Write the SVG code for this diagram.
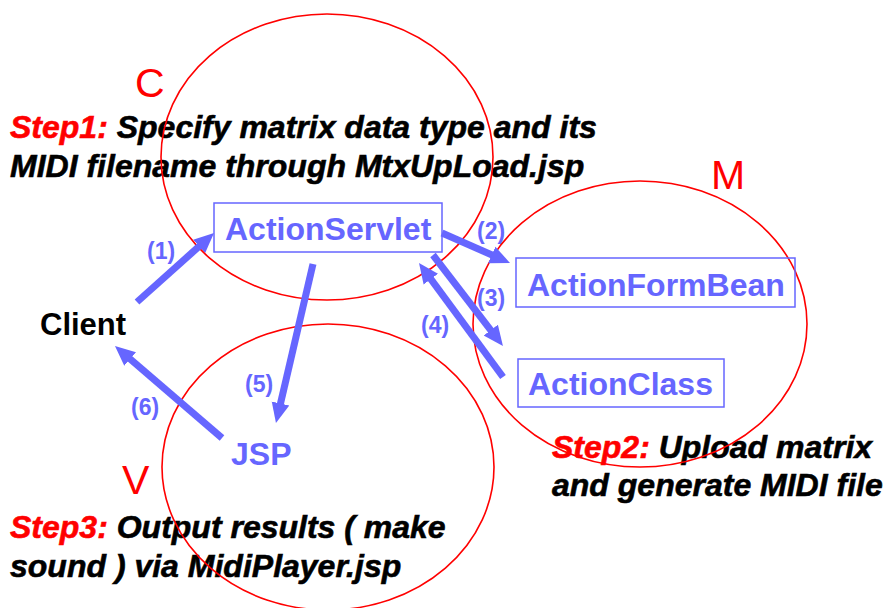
<svg xmlns="http://www.w3.org/2000/svg" width="887" height="608" viewBox="0 0 887 608">
<style>
.step{font-family:"Liberation Sans",Arial,sans-serif;font-weight:bold;font-style:italic;font-size:32px;fill:#000;stroke:#000;stroke-width:0.6}
.red{fill:#FF0000;stroke:#FF0000}
.region{fill:none;stroke:#FF0000;stroke-width:1.6}
.letter{font-family:"Liberation Sans",Arial,sans-serif;font-size:41px;fill:#FF0000}
.box{fill:none;stroke:#6666FF;stroke-width:1.5}
.node{font-family:"Liberation Sans",Arial,sans-serif;font-weight:bold;font-size:32px;fill:#6666FF}
.client{font-family:"Liberation Sans",Arial,sans-serif;font-weight:bold;font-size:31px;fill:#000}
.lbl{font-family:"Liberation Sans",Arial,sans-serif;font-weight:bold;font-size:23px;fill:#6666FF}
.arrow{stroke:#6666FF;stroke-width:7;fill:none;marker-end:url(#head)}
</style>
<defs>
<marker id="head" viewBox="0 0 20 20" markerUnits="userSpaceOnUse" markerWidth="20" markerHeight="20" refX="4" refY="10" orient="auto">
<path d="M0,1 L20,10 L0,19 z" fill="#6666FF"/>
</marker>
</defs>
<rect width="887" height="608" fill="#fff"/>
<g id="step-texts">
<text class="step" x="10" y="138"><tspan class="red">Step1:</tspan> Specify matrix data type and its</text>
<text class="step" x="10" y="177">MIDI filename through MtxUpLoad.jsp</text>
<text class="step" x="552" y="458"><tspan class="red">Step2:</tspan> Upload matrix</text>
<text class="step" x="552" y="496">and generate MIDI file</text>
<text class="step" x="10" y="538"><tspan class="red">Step3:</tspan> Output results ( make</text>
<text class="step" x="10" y="577">sound ) via MidiPlayer.jsp</text>
</g>
<g id="region-C">
<ellipse class="region" cx="327" cy="157" rx="166" ry="143"/>
<text class="letter" x="135" y="97">C</text>
</g>
<g id="region-M">
<ellipse class="region" cx="640" cy="324" rx="167" ry="143"/>
<text class="letter" x="711" y="189">M</text>
</g>
<g id="region-V">
<ellipse class="region" cx="328" cy="467" rx="166" ry="143"/>
<text class="letter" x="122" y="494">V</text>
</g>
<g id="ActionServlet">
<rect class="box" x="214" y="203" width="228" height="49"/>
<text class="node" x="225" y="240">ActionServlet</text>
</g>
<g id="ActionFormBean">
<rect class="box" x="516" y="258" width="279" height="49"/>
<text class="node" x="527" y="296">ActionFormBean</text>
</g>
<g id="ActionClass">
<rect class="box" x="518" y="359" width="206" height="48"/>
<text class="node" x="528" y="395">ActionClass</text>
</g>
<g id="Client">
<text class="client" x="40" y="335">Client</text>
</g>
<g id="JSP">
<text class="node" x="231" y="465">JSP</text>
</g>
<g id="connectors">
<line class="arrow" x1="137" y1="302" x2="202.1" y2="243.7"/>
<line class="arrow" x1="442" y1="233" x2="495.4" y2="256.5"/>
<line class="arrow" x1="433" y1="255" x2="493.2" y2="333.3"/>
<line class="arrow" x1="503" y1="377" x2="428.5" y2="275.9"/>
<line class="arrow" x1="313" y1="264" x2="279.6" y2="407.4"/>
<line class="arrow" x1="222" y1="438" x2="127.1" y2="356.4"/>
<text class="lbl" x="147" y="259">(1)</text>
<text class="lbl" x="477" y="239">(2)</text>
<text class="lbl" x="477" y="306">(3)</text>
<text class="lbl" x="421" y="333">(4)</text>
<text class="lbl" x="245" y="392">(5)</text>
<text class="lbl" x="131" y="415">(6)</text>
</g>
</svg>
